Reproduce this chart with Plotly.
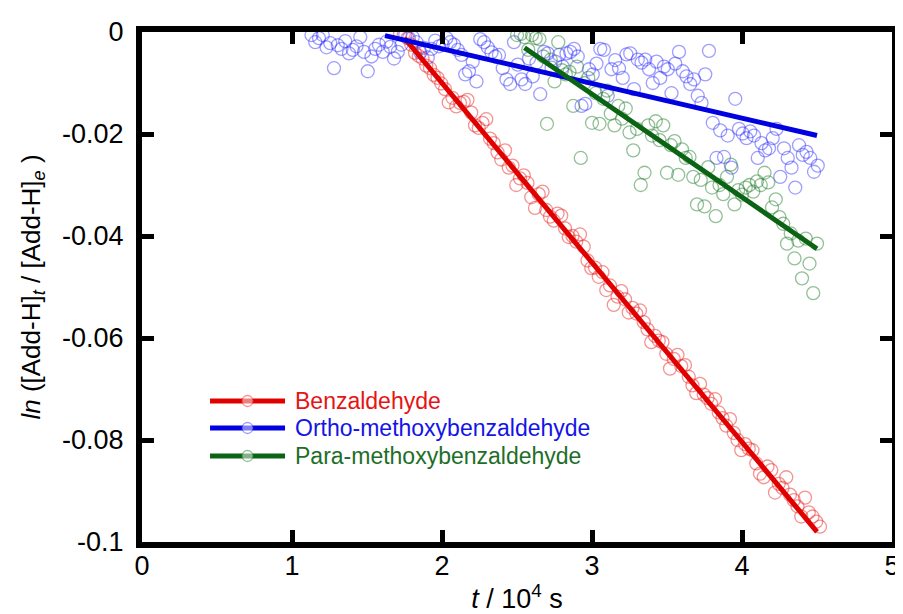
import plotly.graph_objects as go

# ---------------- data (x in 10^4 s, y = ln([Add-H]t/[Add-H]e)) ----------------
benz_x = [1.720, 1.745, 1.770, 1.795, 1.820, 1.845, 1.870, 1.895, 1.920, 1.945,
          1.970, 1.995, 2.020, 2.045, 2.070, 2.095, 2.120, 2.145, 2.170, 2.195,
          2.220, 2.245, 2.270, 2.295, 2.320, 2.345, 2.370, 2.395, 2.420, 2.445,
          2.470, 2.495, 2.520, 2.545, 2.570, 2.595, 2.620, 2.645, 2.670, 2.695,
          2.720, 2.745, 2.770, 2.795, 2.820, 2.845, 2.870, 2.895, 2.920, 2.945,
          2.970, 2.995, 3.020, 3.045, 3.070, 3.095, 3.120, 3.145, 3.170, 3.195,
          3.220, 3.245, 3.270, 3.295, 3.320, 3.345, 3.370, 3.395, 3.420, 3.445,
          3.470, 3.495, 3.520, 3.545, 3.570, 3.595, 3.620, 3.645, 3.670, 3.695,
          3.720, 3.745, 3.770, 3.795, 3.820, 3.845, 3.870, 3.895, 3.920, 3.945,
          3.970, 3.995, 4.020, 4.045, 4.070, 4.095, 4.120, 4.145, 4.170, 4.195,
          4.220, 4.245, 4.270, 4.295, 4.320, 4.345, 4.370, 4.395, 4.420, 4.445,
          4.470, 4.495, 4.520]
benz_y = [-0.0003, -0.0004, -0.0012, -0.0025, -0.0041, -0.0047, -0.0052, -0.0066, -0.0071, -0.0084,
          -0.0090, -0.0101, -0.0112, -0.0138, -0.0129, -0.0146, -0.0139, -0.0137, -0.0133, -0.0158,
          -0.0183, -0.0188, -0.0178, -0.0171, -0.0209, -0.0218, -0.0236, -0.0250, -0.0232, -0.0266,
          -0.0262, -0.0300, -0.0287, -0.0281, -0.0296, -0.0324, -0.0345, -0.0318, -0.0313, -0.0349,
          -0.0362, -0.0370, -0.0356, -0.0360, -0.0385, -0.0402, -0.0400, -0.0411, -0.0397, -0.0421,
          -0.0448, -0.0463, -0.0462, -0.0480, -0.0471, -0.0506, -0.0497, -0.0535, -0.0519, -0.0508,
          -0.0524, -0.0550, -0.0541, -0.0552, -0.0546, -0.0569, -0.0583, -0.0608, -0.0596, -0.0605,
          -0.0608, -0.0631, -0.0660, -0.0641, -0.0633, -0.0655, -0.0653, -0.0676, -0.0693, -0.0708,
          -0.0690, -0.0711, -0.0718, -0.0729, -0.0720, -0.0746, -0.0757, -0.0772, -0.0759, -0.0786,
          -0.0800, -0.0820, -0.0808, -0.0817, -0.0820, -0.0846, -0.0866, -0.0873, -0.0852, -0.0859,
          -0.0903, -0.0886, -0.0894, -0.0873, -0.0907, -0.0918, -0.0930, -0.0950, -0.0913, -0.0942,
          -0.0950, -0.0960, -0.0970]

ortho_x = [1.130, 1.155, 1.180, 1.205, 1.230, 1.255, 1.280, 1.305, 1.330, 1.355,
           1.380, 1.405, 1.430, 1.455, 1.480, 1.505, 1.530, 1.555, 1.580, 1.605,
           1.630, 1.655, 1.680, 1.705, 1.730, 1.755, 1.780, 1.805, 1.830, 1.855,
           1.880, 1.905, 1.930, 1.955, 1.980, 2.005, 2.030, 2.055, 2.080, 2.105,
           2.130, 2.155, 2.180, 2.205, 2.230, 2.255, 2.280, 2.305, 2.330, 2.355,
           2.380, 2.405, 2.430, 2.455, 2.480, 2.505, 2.530, 2.555, 2.580, 2.605,
           2.630, 2.655, 2.680, 2.705, 2.730, 2.755, 2.780, 2.805, 2.830, 2.855,
           2.880, 2.905, 2.930, 2.955, 2.980, 3.005, 3.030, 3.055, 3.080, 3.105,
           3.130, 3.155, 3.180, 3.205, 3.230, 3.255, 3.280, 3.305, 3.330, 3.355,
           3.380, 3.405, 3.430, 3.455, 3.480, 3.505, 3.530, 3.555, 3.580, 3.605,
           3.630, 3.655, 3.680, 3.705, 3.730, 3.755, 3.780, 3.805, 3.830, 3.855,
           3.880, 3.905, 3.930, 3.955, 3.980, 4.005, 4.030, 4.055, 4.080, 4.105,
           4.130, 4.155, 4.180, 4.205, 4.230, 4.255, 4.280, 4.305, 4.330, 4.355,
           4.380, 4.405, 4.430, 4.455, 4.480, 4.505]
ortho_y = [-0.0006, -0.0020, -0.0012, -0.0006, -0.0030, -0.0022, -0.0071, -0.0026, -0.0033, -0.0018,
           -0.0042, -0.0035, -0.0028, -0.0010, -0.0039, -0.0077, -0.0048, -0.0033, -0.0025, -0.0039,
           -0.0019, -0.0029, -0.0052, -0.0039, -0.0025, -0.0005, -0.0012, -0.0010, -0.0020, -0.0040,
           -0.0031, -0.0050, -0.0033, -0.0017, -0.0028, -0.0025, -0.0012, -0.0020, -0.0025, -0.0035,
           -0.0045, -0.0083, -0.0077, -0.0058, -0.0097, -0.0014, -0.0020, -0.0030, -0.0040, -0.0048,
           -0.0045, -0.0071, -0.0093, -0.0102, -0.0020, -0.0064, -0.0093, -0.0102, -0.0052, -0.0087,
           -0.0060, -0.0122, -0.0039, -0.0042, -0.0070, -0.0058, -0.0045, -0.0068, -0.0042, -0.0039,
           -0.0033, -0.0048, -0.0145, -0.0141, -0.0073, -0.0083, -0.0062, -0.0033, -0.0035, -0.0125,
           -0.0073, -0.0055, -0.0071, -0.0090, -0.0044, -0.0042, -0.0112, -0.0054, -0.0060, -0.0054,
           -0.0073, -0.0100, -0.0058, -0.0090, -0.0068, -0.0073, -0.0120, -0.0062, -0.0039, -0.0077,
           -0.0087, -0.0102, -0.0093, -0.0125, -0.0139, -0.0083, -0.0037, -0.0178, -0.0247, -0.0193,
           -0.0245, -0.0203, -0.0266, -0.0131, -0.0190, -0.0199, -0.0208, -0.0195, -0.0203, -0.0247,
           -0.0218, -0.0232, -0.0228, -0.0208, -0.0190, -0.0284, -0.0228, -0.0247, -0.0266, -0.0305,
           -0.0222, -0.0241, -0.0235, -0.0247, -0.0274, -0.0262]

para_x = [2.500, 2.525, 2.550, 2.575, 2.600, 2.625, 2.650, 2.675, 2.700, 2.725,
          2.750, 2.775, 2.800, 2.825, 2.850, 2.875, 2.900, 2.925, 2.950, 2.975,
          3.000, 3.025, 3.050, 3.075, 3.100, 3.125, 3.150, 3.175, 3.200, 3.225,
          3.250, 3.275, 3.300, 3.325, 3.350, 3.375, 3.400, 3.425, 3.450, 3.475,
          3.500, 3.525, 3.550, 3.575, 3.600, 3.625, 3.650, 3.675, 3.700, 3.725,
          3.750, 3.775, 3.800, 3.825, 3.850, 3.875, 3.900, 3.925, 3.950, 3.975,
          4.000, 4.025, 4.050, 4.075, 4.100, 4.125, 4.150, 4.175, 4.200, 4.225,
          4.250, 4.275, 4.300, 4.325, 4.350, 4.375, 4.400, 4.425, 4.450, 4.475,
          4.500]
para_y = [-0.0006, -0.0004, -0.0010, -0.0035, -0.0006, -0.0012, -0.0014, -0.0048, -0.0180, -0.0054,
          -0.0097, -0.0020, -0.0075, -0.0083, -0.0078, -0.0145, -0.0068, -0.0247, -0.0100, -0.0090,
          -0.0178, -0.0120, -0.0180, -0.0131, -0.0115, -0.0160, -0.0183, -0.0145, -0.0170, -0.0150,
          -0.0197, -0.0232, -0.0190, -0.0300, -0.0276, -0.0183, -0.0203, -0.0175, -0.0212, -0.0183,
          -0.0276, -0.0222, -0.0214, -0.0280, -0.0230, -0.0247, -0.0245, -0.0284, -0.0338, -0.0290,
          -0.0342, -0.0265, -0.0305, -0.0361, -0.0300, -0.0318, -0.0284, -0.0260, -0.0338, -0.0310,
          -0.0319, -0.0305, -0.0300, -0.0313, -0.0293, -0.0300, -0.0276, -0.0295, -0.0344, -0.0328,
          -0.0363, -0.0376, -0.0415, -0.0395, -0.0444, -0.0409, -0.0483, -0.0405, -0.0454, -0.0512,
          -0.0415]

# linear fits (end points)
benz_fit_x = [1.75, 4.50]
benz_fit_y = [-0.0012, -0.0980]
ortho_fit_x = [1.62, 4.50]
ortho_fit_y = [-0.0007, -0.0203]
para_fit_x = [2.55, 4.50]
para_fit_y = [-0.0031, -0.0425]

names = ["Benzaldehyde", "Ortho-methoxybenzaldehyde", "Para-methoxybenzaldehyde"]
line_colors = ["rgb(225,0,0)", "rgb(0,0,225)", "rgb(10,100,20)"]
text_colors = ["rgb(230,20,20)", "rgb(20,20,230)", "rgb(30,110,40)"]
marker_colors = ["rgba(235,40,40,0.5)", "rgba(40,40,255,0.45)", "rgba(40,130,50,0.5)"]

x_ticks = [0, 1, 2, 3, 4, 5]
y_ticks = [0, -0.02, -0.04, -0.06, -0.08, -0.1]
y_ticktext = ["0", "-0.02", "-0.04", "-0.06", "-0.08", "-0.1"]

FONT = "Liberation Sans, Arial, sans-serif"

scatter_data = [(benz_x, benz_y), (ortho_x, ortho_y), (para_x, para_y)]
fit_data = [(benz_fit_x, benz_fit_y), (ortho_fit_x, ortho_fit_y), (para_fit_x, para_fit_y)]

fig = go.Figure()
for (xs, ys), name, mc in zip(scatter_data, names, marker_colors):
    fig.add_trace(go.Scatter(
        x=xs, y=ys, mode="markers", name=name, showlegend=False, cliponaxis=False,
        marker=dict(symbol="circle-open", size=13, color=mc, line=dict(width=1.3, color=mc)),
    ))
for (xs, ys), name, lc in zip(fit_data, names, line_colors):
    fig.add_trace(go.Scatter(
        x=xs, y=ys, mode="lines", name=name + " fit", showlegend=False, cliponaxis=False,
        line=dict(color=lc, width=5),
    ))

# manual legend (long line with a circle in the middle, coloured text)
legend_rows_y = [0.2765, 0.2235, 0.1686]
shapes = []
annotations = []
for name, lc, tc, mc, ly in zip(names, line_colors, text_colors, marker_colors, legend_rows_y):
    shapes.append(dict(type="line", xref="paper", yref="paper", x0=0.0907, x1=0.1907, y0=ly, y1=ly,
                       line=dict(color=lc, width=5)))
    shapes.append(dict(type="circle", xref="paper", yref="paper", xsizemode="pixel", ysizemode="pixel",
                       xanchor=0.1407, yanchor=ly, x0=-5.5, x1=5.5, y0=-5.5, y1=5.5,
                       line=dict(color=mc, width=1.3), fillcolor="rgba(255,255,255,0.5)"))
    annotations.append(dict(xref="paper", yref="paper", x=0.2013, y=ly, xanchor="left", yanchor="middle",
                            text=name, showarrow=False, font=dict(family=FONT, size=23, color=tc)))

axis_common = dict(showline=True, linewidth=6, linecolor="black", mirror="ticks",
                   ticks="inside", ticklen=12, tickwidth=5, tickcolor="black",
                   showgrid=False, zeroline=False, automargin=False,
                   tickfont=dict(family=FONT, size=27, color="black"))

# the page body adds an 8px margin, so the figure is drawn 8px smaller and offset
fig.update_layout(
    width=895, height=606,
    margin=dict(l=134, r=11, t=24, b=72),
    paper_bgcolor="white", plot_bgcolor="white",
    font=dict(family=FONT, color="black"),
    xaxis=dict(range=[0, 5], tickvals=x_ticks, ticktext=[str(v) for v in x_ticks],
               ticklabelstandoff=-5,
               title=dict(text="<i>t</i> / 10<sup>4</sup> s", font=dict(family=FONT, size=27), standoff=12),
               **axis_common),
    yaxis=dict(range=[-0.1, 0], tickvals=y_ticks, ticktext=y_ticktext,
               ticklabelstandoff=7,
               title=dict(text="<i>ln</i> ([Add-H]<sub><i>t</i></sub> / [Add-H]<sub><i>e</i></sub> )",
                          font=dict(family=FONT, size=26), standoff=16),
               **axis_common),
    shapes=shapes,
    annotations=annotations,
)

fig.write_html("out.html")
